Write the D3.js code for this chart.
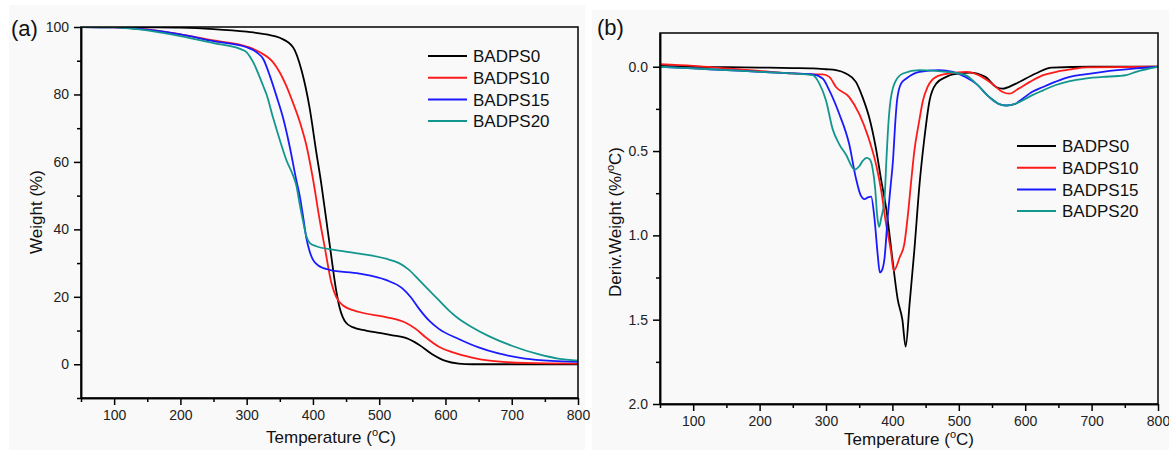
<!DOCTYPE html>
<html lang="en">
<head>
    <meta charset="UTF-8">
    <title>TGA / DTG curves</title>
    <script src="https://d3js.org/d3.v7.min.js"></script>
    <style>
        body { margin: 0; background: #fff; }
        svg { font-family: Arial, "Liberation Sans", sans-serif; }
        .tick text { font-size: 14px; fill: #222; }
        .axis path, .axis line { stroke: #000; stroke-width: 1.5px; }
        .curve { fill: none; stroke-width: 1.8px; }
        .frame { fill: none; stroke: #000; stroke-width: 1.5px; }
        .label { font-size: 17px; fill: #111; }
        .legend text { font-size: 17px; fill: #111; }
    </style>
</head>
<body>
<script>
// series names and colours
const names = ["BADPS0", "BADPS10", "BADPS15", "BADPS20"];
const colors = ["#000000", "#ff1a1a", "#1a1aff", "#12968e"];

// (a) TGA: temperature (°C) and weight (%)
const tgaT0 = [50,100,150,200,250,300,330,350,370,383,395,405,413,420,427,435,440,445,450,460,480,500,520,540,560,580,600,620,640,700,800];
const tgaW0 = [100,100,99.9,99.8,99.4,98.6,97.8,96.8,94,87,76,63,53,43,33,22,17,14,12.3,11,10,9.3,8.6,7.8,5.8,3,1,0.2,0,0,0];
const tgaT10 = [50,100,150,200,250,300,320,340,350,360,370,380,390,400,410,418,428,435,445,470,510,540,555,570,590,610,640,670,720,800];
const tgaW10 = [100,99.9,99.3,97.8,96,94.2,92.5,89.5,86.5,82.5,77.5,72,65,55,43,34.5,24,20,17.5,15.5,14,12.3,10.5,8,5.2,3.6,2,1,0.4,0.2];
const tgaT15 = [50,100,150,200,250,300,315,325,335,345,355,365,375,380,385,390,395,400,408,425,470,510,535,548,560,575,590,620,650,680,720,760,800];
const tgaW15 = [100,99.9,99.2,97.8,95.8,94,92.5,90.5,85.5,79.5,73,64.5,54.5,50,44,37.5,33.5,31,29.3,28,26.9,25,22.5,19.8,16.5,13,10.5,7.5,5,3.2,1.7,1,0.7];
const tgaT20 = [50,100,150,200,250,290,300,310,325,330,340,350,360,370,375,380,385,390,395,405,430,470,510,530,545,560,575,590,605,620,640,667,700,740,770,800];
const tgaW20 = [100,99.9,99,97.3,95.2,93.5,92.5,89.5,82.5,80,73,66.5,60.5,56,53,47.5,42.5,38,36,35,34,32.8,31.3,30,28,25,22,19,16,13.5,11,8.2,5.5,3,1.7,1.1];

// (b) DTG: temperature (°C) and deriv. weight (%/°C)
const dtgT0 = [50,100,150,200,250,280,300,315,330,345,355,365,375,383,391,400,408,415,420,426,433,441,448,456,466,481,491,516,540,556,566,586,616,640,700,800];
const dtgD0 = [-0.005,0,0.003,0.005,0.008,0.01,0.015,0.02,0.04,0.09,0.18,0.3,0.48,0.67,0.85,1.14,1.38,1.5,1.66,1.4,1.09,0.69,0.43,0.2,0.1,0.06,0.045,0.035,0.06,0.12,0.13,0.1,0.04,0.005,0,0];
const dtgT10 = [50,100,150,200,250,280,295,305,315,335,350,363,376,383,390,398,402,411,418,423,428,433,440,446,453,466,486,511,530,550,566,576,590,607,627,647,670,692,800];
const dtgD10 = [-0.015,-0.005,0.01,0.025,0.04,0.045,0.045,0.06,0.12,0.18,0.28,0.41,0.59,0.73,0.92,1.1,1.21,1.13,1.05,0.89,0.69,0.5,0.33,0.2,0.12,0.06,0.04,0.03,0.05,0.1,0.15,0.16,0.13,0.09,0.05,0.03,0.015,0.004,0];
const dtgT15 = [50,100,150,200,250,280,295,305,320,335,345,352,358,363,368,373,378,381,385,388,393,397,401,404,407,413,421,441,470,491,510,526,546,560,571,585,596,610,627,645,667,690,717,767,800];
const dtgD15 = [0,0.01,0.02,0.03,0.04,0.045,0.07,0.14,0.28,0.46,0.66,0.76,0.785,0.775,0.77,0.9,1.12,1.22,1.2,1.14,0.89,0.72,0.55,0.35,0.2,0.1,0.07,0.03,0.02,0.03,0.06,0.1,0.18,0.22,0.23,0.22,0.19,0.15,0.12,0.09,0.06,0.045,0.03,0.01,0];
const dtgT20 = [50,100,150,200,250,280,290,300,310,320,330,343,350,355,361,366,370,374,377,380,383,388,391,393,396,403,416,441,481,510,526,546,560,571,585,596,610,627,645,667,690,717,740,752,767,800];
const dtgD20 = [0,0.01,0.02,0.03,0.04,0.05,0.1,0.2,0.37,0.46,0.52,0.61,0.59,0.56,0.54,0.55,0.6,0.72,0.88,0.95,0.9,0.79,0.55,0.4,0.24,0.1,0.04,0.02,0.03,0.05,0.1,0.18,0.22,0.23,0.22,0.2,0.17,0.14,0.11,0.085,0.07,0.06,0.055,0.05,0.03,0];

const xMajor = [100,200,300,400,500,600,700,800];
const xMinor = [50,150,250,350,450,550,650,750];

const svg = d3.select("body").append("svg")
    .attr("width", 1169)
    .attr("height", 450);

// light panel backgrounds
svg.append("rect").attr("x", 9).attr("y", 5).attr("width", 576).attr("height", 445).attr("fill", "#f9f9f9");
svg.append("rect").attr("x", 592).attr("y", 10).attr("width", 577).attr("height", 440).attr("fill", "#f9f9f9");

function zip(t, v) {
    return t.map((d, i) => [d, v[i]]);
}

function drawPanel(opt) {
    const x = d3.scaleLinear().domain([50, 800]).range([opt.left, opt.right]);
    const y = d3.scaleLinear().domain(opt.yDomain).range([opt.bottom, opt.top]);
    const g = svg.append("g");

    const clipId = "clip-" + opt.id;
    svg.append("clipPath").attr("id", clipId)
        .append("rect")
        .attr("x", opt.left).attr("y", opt.top)
        .attr("width", opt.right - opt.left).attr("height", opt.bottom - opt.top);

    const line = d3.line()
        .x(d => x(d[0]))
        .y(d => y(d[1]))
        .curve(d3.curveMonotoneX);

    g.append("g").attr("clip-path", `url(#${clipId})`)
        .selectAll("path")
        .data(opt.series)
        .enter().append("path")
        .attr("class", "curve")
        .attr("stroke", (d, i) => colors[i])
        .attr("d", d => line(d));

    // axes
    g.append("g").attr("class", "axis")
        .attr("transform", `translate(0,${opt.bottom})`)
        .call(d3.axisBottom(x).tickValues(xMajor).tickSize(7).tickPadding(5).tickSizeOuter(0));
    g.append("g").attr("class", "axis")
        .attr("transform", `translate(0,${opt.bottom})`)
        .call(d3.axisBottom(x).tickValues(xMinor).tickSize(4).tickFormat("").tickSizeOuter(0));
    g.append("g").attr("class", "axis")
        .attr("transform", `translate(${opt.left},0)`)
        .call(d3.axisLeft(y).tickValues(opt.yMajor).tickSize(7).tickPadding(5)
            .tickFormat(opt.yFormat).tickSizeOuter(0));
    g.append("g").attr("class", "axis")
        .attr("transform", `translate(${opt.left},0)`)
        .call(d3.axisLeft(y).tickValues(opt.yMinor).tickSize(4).tickFormat("").tickSizeOuter(0));

    g.append("rect").attr("class", "frame")
        .attr("x", opt.left).attr("y", opt.top)
        .attr("width", opt.right - opt.left).attr("height", opt.bottom - opt.top);

    // x title
    const xt = g.append("text").attr("class", "label")
        .attr("x", opt.xTitle[0]).attr("y", opt.xTitle[1])
        .attr("text-anchor", "middle");
    xt.append("tspan").text("Temperature (");
    xt.append("tspan").attr("font-size", "11px").attr("dy", "-7").text("o");
    xt.append("tspan").attr("dy", "7").text("C)");

    // y title
    const yt = g.append("text").attr("class", "label")
        .attr("transform", `translate(${opt.yTitle[0]},${opt.yTitle[1]}) rotate(-90)`)
        .attr("text-anchor", "middle");
    opt.yTitleParts.forEach(p => {
        if (p.sup) {
            yt.append("tspan").attr("font-size", "11px").attr("dy", "-7").text(p.text);
        } else {
            yt.append("tspan").attr("dy", p.after ? "7" : null).text(p.text);
        }
    });

    // panel tag
    g.append("text").attr("x", opt.tag[0]).attr("y", opt.tag[1])
        .attr("font-size", "22px").attr("fill", "#111").text(opt.tagText);

    // legend
    const lg = g.append("g").attr("class", "legend");
    names.forEach((n, i) => {
        const yy = opt.legend[1] + i * 21.7;
        lg.append("line")
            .attr("x1", opt.legend[0]).attr("x2", opt.legend[0] + 39)
            .attr("y1", yy).attr("y2", yy)
            .attr("stroke", colors[i]).attr("stroke-width", 2);
        lg.append("text")
            .attr("x", opt.legend[0] + 45).attr("y", yy)
            .attr("dy", "0.36em").text(n);
    });
}

drawPanel({
    id: "a",
    left: 81, right: 578, top: 27, bottom: 398,
    yDomain: [-10, 100],
    yMajor: [0, 20, 40, 60, 80, 100],
    yMinor: [-10, 10, 30, 50, 70, 90],
    yFormat: d3.format("d"),
    series: [zip(tgaT0, tgaW0), zip(tgaT10, tgaW10), zip(tgaT15, tgaW15), zip(tgaT20, tgaW20)],
    xTitle: [331, 443],
    yTitle: [42, 212],
    yTitleParts: [{text: "Weight (%)"}],
    tag: [11, 36], tagText: "(a)",
    legend: [428, 56]
});

drawPanel({
    id: "b",
    left: 660, right: 1158, top: 33, bottom: 404,
    yDomain: [2.0, -0.2],
    yMajor: [0, 0.5, 1.0, 1.5, 2.0],
    yMinor: [0.25, 0.75, 1.25, 1.75],
    yFormat: d3.format(".1f"),
    series: [zip(dtgT0, dtgD0), zip(dtgT10, dtgD10), zip(dtgT15, dtgD15), zip(dtgT20, dtgD20)],
    xTitle: [909, 445],
    yTitle: [621, 222],
    yTitleParts: [{text: "Deriv.Weight (%/"}, {text: "o", sup: true}, {text: "C)", after: true}],
    tag: [597, 35], tagText: "(b)",
    legend: [1017, 146]
});
</script>
</body>
</html>
